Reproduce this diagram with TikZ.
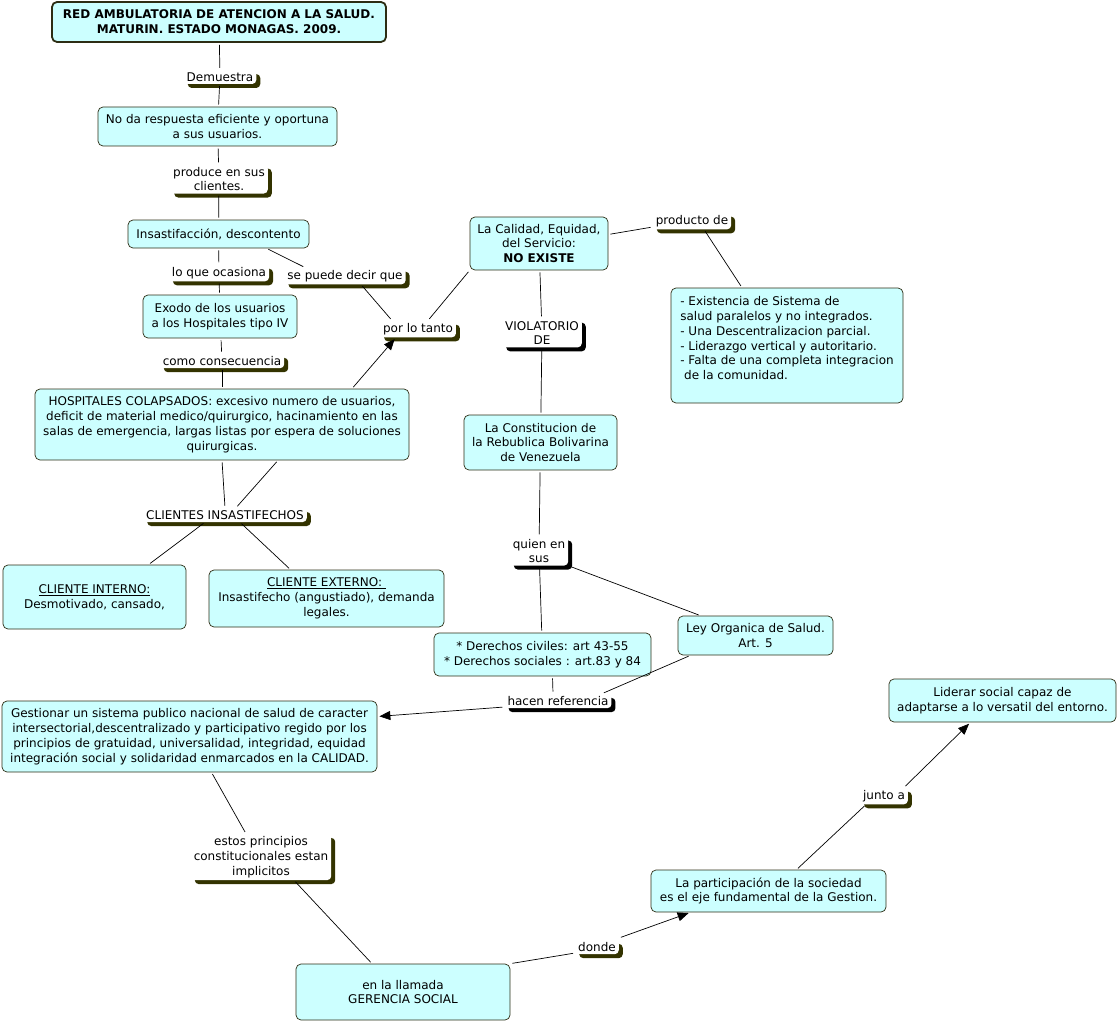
\documentclass[tikz,border=0pt]{standalone}
\usepackage{fontspec}
\setmainfont{DejaVu Sans}
\usetikzlibrary{arrows.meta,shadows}
\definecolor{cmapfill}{RGB}{204,255,255}
\definecolor{cmapline}{RGB}{45,45,20}
\definecolor{cmapshadow}{RGB}{51,51,0}

\begin{document}
\begin{tikzpicture}[x=1pt,y=-1pt,
    every node/.style={font=\fontsize{12}{14.8}\selectfont},
    concept/.style={draw=cmapline,fill=cmapfill,rounded corners=5pt,align=center,line width=.7pt},
    linking/.style={fill=white,rounded corners=4pt,align=center,inner xsep=3pt,inner ysep=2.5pt,
      drop shadow={shadow xshift=4pt,shadow yshift=-4pt,fill=#1,opacity=1}},
    linking/.default=cmapshadow,
    lk/.style={line width=.7pt,shorten <=2pt,shorten >=2pt},
    arw/.style={lk,-{Triangle[length=11pt,width=9pt]}}]
      \useasboundingbox (0,0) rectangle (1119,1022);

      %% left column
      \node[concept,line width=1.8pt,font=\bfseries\fontsize{12}{14.8}\selectfont,
        minimum width=334pt,minimum height=40pt] (title) at (219,22)
        {RED AMBULATORIA DE ATENCION A LA SALUD.\\MATURIN. ESTADO MONAGAS. 2009.};
      \node[linking] (dem) at (220,77) {Demuestra};
      \node[concept,minimum width=239pt,minimum height=39pt] (nodares) at (217.5,126.5)
        {No da respuesta eficiente y oportuna\\a sus usuarios.};
      \node[linking] (produce) at (219,179) {produce en sus\\clientes.};
      \node[concept,minimum width=181pt,minimum height=28pt] (insat) at (218.5,234)
        {Insastifacción, descontento};
      \node[linking] (ocasiona) at (219,273) {lo que ocasiona};
      \node[linking] (sepuede) at (345,276) {se puede decir que};
      \node[concept,minimum width=154pt,minimum height=43pt] (exodo) at (220,316.5)
        {Exodo de los usuarios\\a los Hospitales tipo IV};
      \node[linking] (portanto) at (418,329) {por lo tanto};
      \node[linking] (consec) at (222,361) {como consecuencia};
      \node[concept,minimum width=374pt,minimum height=71pt] (hosp) at (222,424.5)
        {HOSPITALES COLAPSADOS: excesivo numero de usuarios,\\deficit de material medico/quirurgico, hacinamiento en las\\salas de emergencia, largas listas por espera de soluciones\\quirurgicas.};
      \node[linking] (clientes) at (225,515) {CLIENTES INSASTIFECHOS};
      \node[concept,minimum width=183pt,minimum height=64pt] (interno) at (94.5,597)
        {\underline{CLIENTE INTERNO:}\\Desmotivado, cansado,};
      \node[concept,minimum width=235pt,minimum height=57pt] (externo) at (326.5,598.5)
        {\underline{CLIENTE EXTERNO:\ }\\Insastifecho (angustiado), demanda\\legales.};

      %% middle and right
      \node[concept,minimum width=138pt,minimum height=53pt] (calidad) at (539,243.5)
        {La Calidad, Equidad,\\del Servicio:\\\textbf{NO EXISTE}};
      \node[linking] (producto) at (692,221) {producto de};
      \node[concept,align=left,minimum width=232pt,minimum height=115pt] (existencia) at (787,345.5)
        {- Existencia de Sistema de\\salud paralelos y no integrados.\\- Una Descentralizacion parcial.\\- Liderazgo vertical y autoritario.\\- Falta de una completa integracion\\\ de la comunidad.\\~};
      \node[linking=black] (violatorio) at (542,333) {VIOLATORIO\\DE};
      \node[concept,minimum width=153pt,minimum height=55pt] (constit) at (540.5,442.5)
        {La Constitucion de\\la Rebublica Bolivarina\\de Venezuela};
      \node[linking=black] (quien) at (539,551) {quien en\\sus};
      \node[concept,minimum width=217pt,minimum height=43pt] (derechos) at (542.5,654.5)
        {* Derechos civiles: art 43-55\\* Derechos sociales : art.83 y 84};
      \node[concept,minimum width=155pt,minimum height=39pt] (ley) at (755.5,635.5)
        {Ley Organica de Salud.\\Art. 5};
      \node[linking=black] (hacen) at (558,701) {hacen referencia};
      \node[concept,minimum width=375pt,minimum height=71pt] (gestionar) at (189.5,736.5)
        {Gestionar un sistema publico nacional de salud de caracter\\intersectorial,descentralizado y participativo regido por los\\principios de gratuidad, universalidad, integridad, equidad\\integración social y solidaridad enmarcados en la CALIDAD.};
      \node[linking] (estos) at (261,857) {estos principios\\constitucionales estan\\implicitos};
      \node[concept,minimum width=214pt,minimum height=56pt] (gerencia) at (403,992)
        {en la llamada\\GERENCIA SOCIAL};
      \node[linking] (donde) at (597,947) {donde};
      \node[concept,minimum width=235pt,minimum height=42pt] (particip) at (768.5,891)
        {La participación de la sociedad\\es el eje fundamental de la Gestion.};
      \node[linking] (junto) at (884,796) {junto a};
      \node[concept,minimum width=227pt,minimum height=43pt] (liderar) at (1002.5,700.5)
        {Liderar social capaz de\\adaptarse a lo versatil del entorno.};

      %% connectors
      \draw[lk] (title) -- (dem);
      \draw[lk] (dem) -- (nodares);
      \draw[lk] (nodares) -- (produce);
      \draw[lk] (produce) -- (insat);
      \draw[lk] (insat) -- (ocasiona);
      \draw[lk] (ocasiona) -- (exodo);
      \draw[lk] ([xshift=48pt]insat.south) -- ([xshift=-40pt]sepuede.north);
      \draw[lk] ([xshift=16pt]sepuede.south) -- ([xshift=-26pt]portanto.north);
      \draw[lk] (exodo) -- (consec);
      \draw[lk] (consec) -- (hosp);
      \draw[arw] ([xshift=130pt]hosp.north) -- ([xshift=-22pt]portanto.south);
      \draw[lk] ([xshift=10pt]portanto.north) -- (calidad.south west);
      \draw[lk] (hosp.south) -- (clientes.north);
      \draw[lk] ([xshift=56pt]hosp.south) -- ([xshift=11pt]clientes.north);
      \draw[lk] ([xshift=-20pt]clientes.south) -- ([xshift=54pt]interno.north);
      \draw[lk] ([xshift=15pt]clientes.south) -- ([xshift=-36pt]externo.north);
      \draw[lk] ([yshift=9pt]calidad.east) -- ([yshift=-6pt]producto.west);
      \draw[lk] ([xshift=12pt]producto.south) -- ([xshift=-45pt]existencia.north);
      \draw[lk] (calidad) -- (violatorio);
      \draw[lk] (violatorio) -- (constit);
      \draw[lk] (constit) -- (quien);
      \draw[lk] (quien) -- (derechos);
      \draw[lk] (quien.south east) -- ([xshift=-55pt]ley.north);
      \draw[lk] ([xshift=10pt]derechos.south) -- ([xshift=-5pt]hacen.north);
      \draw[lk] ([xshift=-65pt]ley.south) -- ([xshift=44pt]hacen.north);
      \draw[arw] ([yshift=-6pt]hacen.west) -- ([yshift=20pt]gestionar.east);
      \draw[lk] ([xshift=22pt]gestionar.south) -- ([xshift=-15pt]estos.north);
      \draw[lk] ([xshift=33pt]estos.south) -- ([xshift=-31pt]gerencia.north);
      \draw[lk] (gerencia.north east) -- ([yshift=-6pt]donde.west);
      \draw[arw] ([yshift=9pt]donde.east) -- ([xshift=-78pt]particip.south);
      \draw[lk] ([xshift=28pt]particip.north) -- ([xshift=-18pt]junto.south);
      \draw[arw] ([xshift=20pt]junto.north) -- ([xshift=-32pt]liderar.south);
\end{tikzpicture}
\end{document}
